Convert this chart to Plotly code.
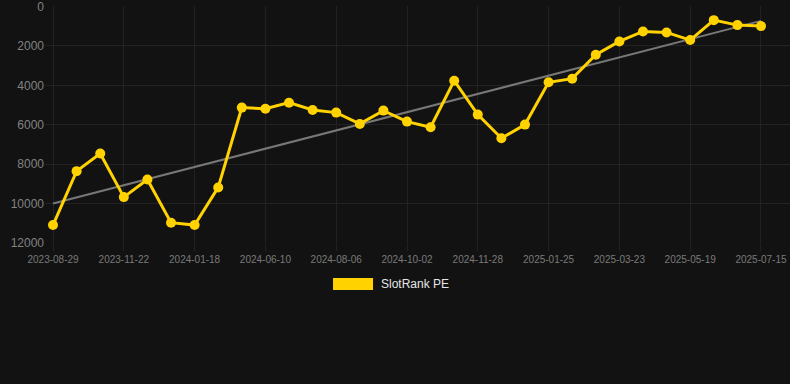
import numpy as np
import plotly.graph_objects as go

dates = [
    "2023-08-29", "2023-09-26", "2023-10-24", "2023-11-22", "2023-12-11", "2023-12-30",
    "2024-01-18", "2024-02-20", "2024-04-15", "2024-06-10", "2024-06-29", "2024-07-18",
    "2024-08-06", "2024-08-25", "2024-09-13", "2024-10-02", "2024-10-21", "2024-11-09",
    "2024-11-28", "2024-12-17", "2025-01-05", "2025-01-25", "2025-02-13", "2025-03-04",
    "2025-03-23", "2025-04-11", "2025-04-30", "2025-05-19", "2025-06-07", "2025-06-26",
    "2025-07-15",
]
rank_pe = [
    11089, 8354, 7460, 9671, 8776, 10970, 11089, 9180, 5130, 5190, 4880,
    5250, 5384, 5958, 5283, 5840, 6127, 3764, 5485, 6684, 5992,
    3848, 3662, 2447, 1772, 1266, 1316, 1704, 692, 945, 996,
]
tick_labels = dates[::3]
y_ticks = [0, 2000, 4000, 6000, 8000, 10000, 12000]
series_name = "SlotRank PE"

idx = np.arange(len(rank_pe))
slope, intercept = np.polyfit(idx, rank_pe, 1)
trend = (slope * idx + intercept).tolist()

BG = "#121212"
GRID = "#222222"
YELLOW = "#FFD200"

fig = go.Figure()
fig.add_trace(go.Scatter(
    x=dates, y=trend, mode="lines", line=dict(color="#777777", width=2),
    showlegend=False, hoverinfo="skip",
))
fig.add_trace(go.Scatter(
    x=dates, y=rank_pe, mode="lines+markers", name=series_name,
    line=dict(color=YELLOW, width=3),
    marker=dict(color=YELLOW, size=10),
    showlegend=False,
))

# legend swatch + label
fig.add_shape(type="rect", xref="paper", yref="paper",
              x0=0.3866, x1=0.4403, y0=-0.1983, y1=-0.1477,
              fillcolor=YELLOW, line=dict(width=0))
fig.add_annotation(xref="paper", yref="paper", x=0.4483, y=-0.173,
                   xanchor="left", yanchor="middle", showarrow=False,
                   text=series_name,
                   font=dict(family="Liberation Sans, Arial", size=12, color="#e6e6e6"))

fig.update_layout(
    width=790, height=384,
    margin=dict(l=45, r=0, t=6, b=141),
    paper_bgcolor=BG, plot_bgcolor=BG,
    showlegend=False,
    font=dict(family="Liberation Sans, Arial"),
)
fig.update_xaxes(
    type="category", range=[-0.34, 31.23],
    tickmode="array", tickvals=tick_labels, ticktext=tick_labels,
    tickfont=dict(size=10, color="#7a7a7a"),
    showgrid=True, gridcolor=GRID, gridwidth=1,
    ticks="outside", ticklen=7, tickcolor=GRID,
    showline=False, zeroline=False,
)
fig.update_yaxes(
    range=[12000, -25], tickmode="array", tickvals=y_ticks,
    ticktext=[str(v) for v in y_ticks],
    tickfont=dict(size=12, color="#828282"),
    ticklabeloverflow="allow",
    showgrid=True, gridcolor=GRID, gridwidth=1,
    zeroline=False, showline=False,
)

fig.write_html(
    "out.html",
    config={"displayModeBar": False},
    post_script="document.body.style.margin='0';document.body.style.background='#121212';",
)
